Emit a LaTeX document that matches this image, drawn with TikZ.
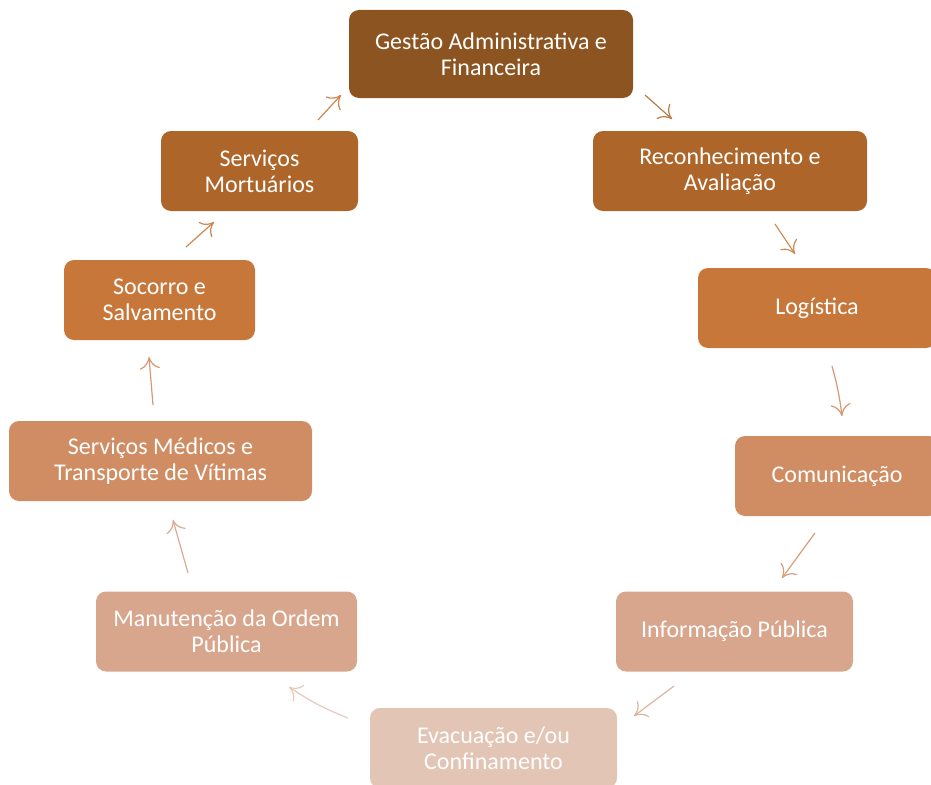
\documentclass[tikz,border=0pt]{standalone}
\usepackage{fontspec}
\setmainfont{Carlito}
\usepackage{xcolor}
\usetikzlibrary{arrows.meta}

\definecolor{tone1}{HTML}{8C5420}
\definecolor{tone2}{HTML}{AE6529}
\definecolor{tone3}{HTML}{C8773A}
\definecolor{tone4}{HTML}{D08D63}
\definecolor{tone5}{HTML}{D8A68D}
\definecolor{tone6}{HTML}{E3C5B6}

\tikzset{
    stage/.style={rectangle, rounded corners=10pt, inner sep=0pt, text=white, align=center,
        font=\fontsize{24}{26}\selectfont, minimum height=80pt},
    flow/.style={line width=1.2pt, -{To[length=12pt, width=20pt, line width=1.2pt]}}}

\begin{document}
\begin{tikzpicture}[x=1pt, y=-1pt]

    \useasboundingbox (0,0) rectangle (931,784);

    \node[stage, fill=tone1, minimum width=284pt, minimum height=88pt] (gestao) at (491,54) {Gestão Administrativa e\\Financeira};
    \node[stage, fill=tone2, minimum width=274pt] (reconh) at (730,171) {Reconhecimento e\\Avaliação};
    \node[stage, fill=tone3, minimum width=238pt] (logist) at (817,308) {Logística};
    \node[stage, fill=tone4, minimum width=204pt] (comun) at (837,476) {Comunicação};
    \node[stage, fill=tone5, minimum width=237pt] (inform) at (734.5,631.5) {Informação Pública};
    \node[stage, fill=tone6, minimum width=247pt] (evac) at (493.5,748) {Evacuação e/ou\\Confinamento};
    \node[stage, fill=tone5, minimum width=261pt] (ordem) at (226.5,631.5) {Manutenção da Ordem\\Pública};
    \node[stage, fill=tone4, minimum width=303pt] (medic) at (160.5,461) {Serviços Médicos e\\Transporte de Vítimas};
    \node[stage, fill=tone3, minimum width=191pt] (socor) at (159.5,300) {Socorro e\\Salvamento};
    \node[stage, fill=tone2, minimum width=197pt] (mort) at (259.5,171) {Serviços\\Mortuários};

    % arrow ends along the cycle
    \coordinate (g1) at (645,95);   \coordinate (g2) at (672,119);
    \coordinate (r1) at (775,224);  \coordinate (r2) at (795,254);
    \coordinate (l1) at (832,366);  \coordinate (l2) at (842,416);
    \coordinate (c1) at (815,533);  \coordinate (c2) at (782,578);
    \coordinate (i1) at (674,686);  \coordinate (i2) at (634,716);
    \coordinate (e1) at (348,718);  \coordinate (e2) at (289,687);
    \coordinate (o1) at (188,573);  \coordinate (o2) at (173,520);
    \coordinate (m1) at (153,405);  \coordinate (m2) at (149,357);
    \coordinate (s1) at (186,247);  \coordinate (s2) at (214,222);
    \coordinate (t1) at (318,120);  \coordinate (t2) at (341,95);

    \draw[flow, tone2!85] (g1) -- (g2);
    \draw[flow, tone3!85] (r1) -- (r2);
    \draw[flow, tone4!90] (l1) to[bend left=4] (l2);
    \draw[flow, tone4!85] (c1) -- (c2);
    \draw[flow, tone5!85] (i1) -- (i2);
    \draw[flow, tone6!90] (e1) to[bend left=6] (e2);
    \draw[flow, tone5!95] (o1) -- (o2);
    \draw[flow, tone4!90] (m1) -- (m2);
    \draw[flow, tone3!90] (s1) -- (s2);
    \draw[flow, tone3!90] (t1) -- (t2);

\end{tikzpicture}
\end{document}
